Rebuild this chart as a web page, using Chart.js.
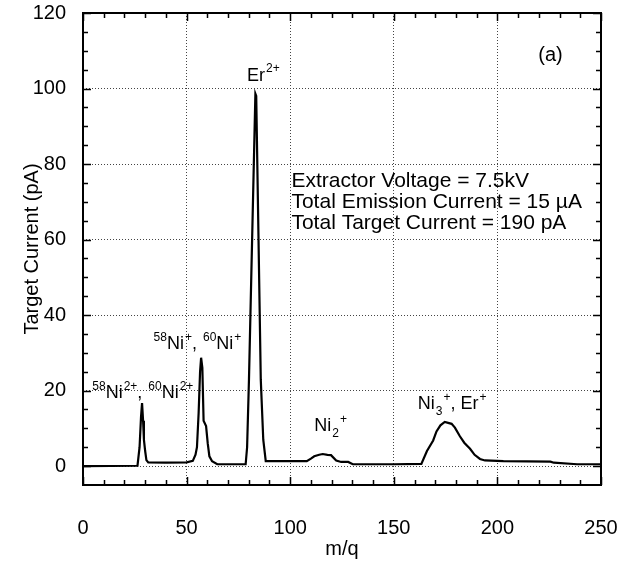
<!DOCTYPE html>
<html><head><meta charset="utf-8">
<script src="https://cdn.jsdelivr.net/npm/chart.js@4/dist/chart.umd.min.js"></script>
<style>html,body{margin:0;padding:0;background:#fff;}#wrap{width:633px;height:569px;}</style>
</head><body><div id="wrap"><canvas id="c" width="633" height="569"></canvas></div>
<script>
// ---- data ----
const massToCharge = [0, 26.3, 27.3, 28.0, 28.5, 29.0, 29.4, 30.0, 30.6, 31.5, 40, 50, 53.0, 54.3, 55.0, 55.8, 56.5, 57.0, 57.6, 58.2, 59.4, 60.2, 61.0, 62.3, 64.8, 78.5, 79.2, 80.1, 83.2, 83.6, 85.8, 87.0, 88.2, 100, 108, 110, 111.6, 114, 115.7, 118, 119.7, 122.2, 124.6, 128, 130.2, 150, 163.3, 166, 169, 170.6, 172.5, 174.6, 177.9, 179.5, 181.9, 184, 186.8, 189, 191.6, 194, 202.9, 225.6, 227.2, 238.5, 250];
const targetCurrent = [0, 0.1, 5, 13, 16.7, 12, 7, 4, 1.6, 1.0, 0.9, 1.0, 1.4, 3.0, 5, 14, 25, 28.7, 26, 12, 10.6, 6, 2.6, 1.3, 0.5, 0.5, 5, 22.9, 98.6, 98.0, 22.9, 7, 1.3, 1.3, 1.3, 2.0, 2.6, 3.0, 3.2, 3.0, 2.9, 1.5, 1.1, 1.1, 0.5, 0.5, 0.6, 4, 6.8, 9.2, 10.8, 11.7, 11.2, 10.2, 7.9, 6.2, 4.6, 3.0, 1.9, 1.5, 1.3, 1.2, 0.9, 0.5, 0.5];
const xTickValues = [0, 50, 100, 150, 200, 250];
const yTickValues = [0, 20, 40, 60, 80, 100, 120];
const xMinorStep = 10;
const yMinorStep = 5;
const xTitle = 'm/q';
const yTitle = 'Target Current (pA)';
const infoLines = ['Extractor Voltage = 7.5kV', 'Total Emission Current = 15 µA', 'Total Target Current = 190 pA'];
const infoAnchorX = 100.6;
const infoAnchorY = [73.8, 68.3, 62.9];
const panelLabel = '(a)';
const panelAnchor = [219.7, 107.4];
// peak labels: text parts (n = normal, sup, sub) and data-space anchor
const labelNi2plus = [['58','sup'],['Ni','n'],['2+','sup'],[', ','n'],['60','sup'],['Ni','n'],['2+','sup']];
const labelNiplus = [['58','sup'],['Ni','n'],['+','sup'],[', ','n'],['60','sup'],['Ni','n'],['+','sup']];
const labelEr2plus = [['Er','n'],['2+','sup']];
const labelNi2dimer = [['Ni','n'],['2','sub'],['+','sup']];
const labelNi3Er = [['Ni','n'],['3','sub'],['+','sup'],[', Er','n'],['+','sup']];
const peakLabelParts = [labelNi2plus, labelNiplus, labelEr2plus, labelNi2dimer, labelNi3Er];
const peakLabelX = [4.0, 33.6, 79.2, 111.6, 161.6];
const peakLabelY = [18.1, 31.1, 102.1, 9.2, 15.0];

const FONT = "'Liberation Sans', Arial, Helvetica, sans-serif";

function drawRich(ctx, x, y, parts, size) {
  let cx = x;
  for (const [t, k] of parts) {
    const fs = k === 'n' ? size : Math.round(size * 0.65);
    ctx.font = fs + 'px ' + FONT;
    const dy = k === 'sup' ? -size * 0.45 : (k === 'sub' ? size * 0.3 : 0);
    ctx.fillText(t, cx + (k === 'n' ? 0 : 1), y + dy);
    cx += ctx.measureText(t).width + (k === 'n' ? 0 : 1);
  }
}

const framePlugin = {
  id: 'framePlugin',
  afterDraw(chart) {
    const {ctx, chartArea: a, scales: {x, y}} = chart;
    ctx.save();
    ctx.strokeStyle = '#000';
    ctx.lineWidth = 1.5;
    const majX = new Set(xTickValues), majY = new Set(yTickValues);
    ctx.beginPath();
    for (let v = x.min; v <= x.max + 1e-9; v += xMinorStep) {
      const px = Math.round(x.getPixelForValue(v)) + 0.5;
      const len = majX.has(v) ? 8 : 5;
      ctx.moveTo(px, a.bottom); ctx.lineTo(px, a.bottom - len);
      ctx.moveTo(px, a.top); ctx.lineTo(px, a.top + len);
    }
    for (let v = 0; v <= y.max + 1e-9; v += yMinorStep) {
      const py = Math.round(y.getPixelForValue(v)) + 0.5;
      const len = majY.has(v) ? 8 : 5;
      ctx.moveTo(a.left, py); ctx.lineTo(a.left + len, py);
      ctx.moveTo(a.right, py); ctx.lineTo(a.right - len, py);
    }
    ctx.stroke();
    ctx.lineWidth = 2;
    ctx.strokeRect(a.left, a.top, a.right - a.left, a.bottom - a.top);
    ctx.fillStyle = '#000';
    ctx.textBaseline = 'alphabetic';
    ctx.textAlign = 'left';
    peakLabelParts.forEach((parts, i) => {
      drawRich(ctx, x.getPixelForValue(peakLabelX[i]), y.getPixelForValue(peakLabelY[i]), parts, 18);
    });
    ctx.font = '21px ' + FONT;
    infoLines.forEach((t, i) => {
      ctx.fillText(t, x.getPixelForValue(infoAnchorX), y.getPixelForValue(infoAnchorY[i]));
    });
    ctx.font = '20px ' + FONT;
    ctx.fillText(panelLabel, x.getPixelForValue(panelAnchor[0]), y.getPixelForValue(panelAnchor[1]));
    ctx.restore();
  }
};

new Chart(document.getElementById('c'), {
  type: 'line',
  data: {
    datasets: [{
      data: massToCharge.map((m, i) => ({x: m, y: targetCurrent[i]})),
      borderColor: '#000', borderWidth: 2.2, pointRadius: 0, tension: 0, fill: false
    }]
  },
  options: {
    responsive: false, animation: false, devicePixelRatio: 1,
    layout: {padding: {left: 0, right: 32, top: 13, bottom: 0}},
    plugins: {legend: {display: false}, tooltip: {enabled: false}},
    scales: {
      x: {
        type: 'linear', min: 0, max: 250,
        afterBuildTicks: s => { s.ticks = xTickValues.map(v => ({value: v})); },
        afterFit: s => { s.height = 84; s.paddingLeft = 0; s.paddingRight = 0; },
        grid: {color: '#444', lineWidth: 1, drawTicks: false},
        border: {display: false, dash: [1, 2]},
        ticks: {color: '#000', font: {family: FONT, size: 20}, padding: 31, maxRotation: 0},
        title: {display: true, text: xTitle, color: '#000', font: {family: FONT, size: 20}, padding: {top: 0, bottom: 8}}
      },
      y: {
        type: 'linear', min: -5, max: 120,
        afterBuildTicks: s => { s.ticks = yTickValues.map(v => ({value: v})); },
        afterFit: s => { s.width = 83; s.paddingTop = 0; s.paddingBottom = 0; },
        grid: {color: '#444', lineWidth: 1, drawTicks: false},
        border: {display: false, dash: [1, 2]},
        ticks: {color: '#000', font: {family: FONT, size: 20}, padding: 17},
        title: {display: true, text: yTitle, color: '#000', font: {family: FONT, size: 20}, padding: {top: 20, bottom: 0}}
      }
    }
  },
  plugins: [framePlugin]
});
</script>
</body></html>
